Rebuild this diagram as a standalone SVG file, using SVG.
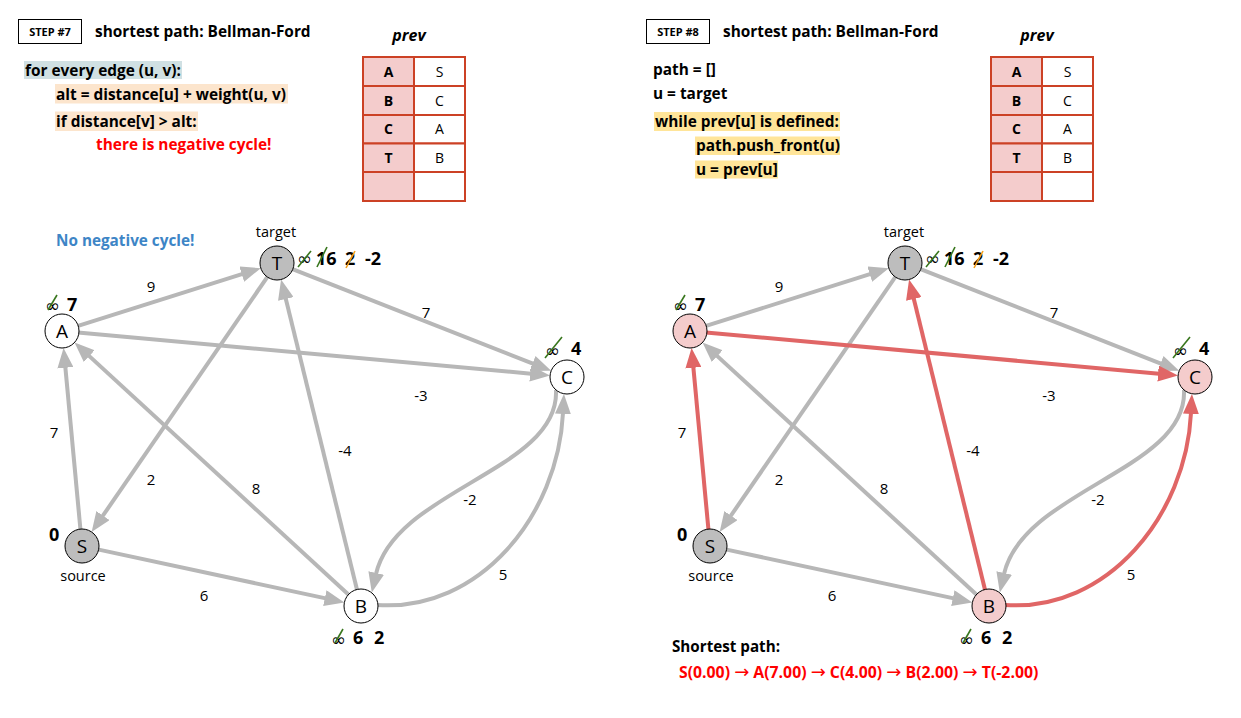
<svg xmlns="http://www.w3.org/2000/svg" width="1241" height="718" viewBox="0 0 1241 718">
<defs>
<style>
text{font-family:"Open Sans","Liberation Sans",sans-serif;fill:#000}
.b{font-weight:bold}
.hd{font-size:15.4px;font-weight:bold}
.code{font-size:15.4px;font-weight:bold}
.step{font-size:11px;font-weight:bold}
.w{font-size:15px;text-anchor:middle}
.nl{font-size:19px;text-anchor:middle}
.cap{font-size:14.5px;text-anchor:middle}
.d{font-size:18px;font-weight:bold}
.inf{font-size:18px;font-family:"DejaVu Sans",sans-serif}
.arr{font-family:"DejaVu Sans",sans-serif;font-size:18px;font-weight:normal}
.tb{font-size:14px;text-anchor:middle}
.e{fill:none;stroke:#b7b7b7;stroke-width:4;marker-end:url(#ag)}
.er{fill:none;stroke:#e06666;stroke-width:4;marker-end:url(#ar)}
.nw{fill:#fff;stroke:#000;stroke-width:1}
.ng{fill:#bdbdbd;stroke:#000;stroke-width:1}
.np{fill:#f4cccc;stroke:#000;stroke-width:1}
.sg{stroke:#38761d;stroke-width:1.6}
.so{stroke:#f6a01a;stroke-width:1.6}
.cell{fill:#fff;stroke:#cc4125;stroke-width:2}
.cellp{fill:#f4cccc;stroke:#cc4125;stroke-width:2}
</style>
<marker id="ag" markerUnits="userSpaceOnUse" markerWidth="20" markerHeight="16" viewBox="0 0 20 16" refX="1" refY="8" orient="auto"><path d="M0,0 L20,8 L0,16 z" fill="#b7b7b7"/></marker>
<marker id="ar" markerUnits="userSpaceOnUse" markerWidth="20" markerHeight="16" viewBox="0 0 20 16" refX="1" refY="8" orient="auto"><path d="M0,0 L20,8 L0,16 z" fill="#e06666"/></marker>
</defs>
<rect width="1241" height="718" fill="#fff"/>

<!-- LEFT PANEL: STEP 7 -->
<g id="header7">
<rect x="18.5" y="19.5" width="63" height="24" fill="#fff" stroke="#000" stroke-width="1"/>
<text class="step" x="50" y="35.5" text-anchor="middle">STEP #7</text>
<text class="hd" x="95" y="37">shortest path: Bellman-Ford</text>
</g>
<g id="code7">
<rect x="24" y="61" width="158" height="18" fill="#d0e0e3"/>
<rect x="55" y="84" width="233" height="19.5" fill="#fce5cd"/>
<rect x="55" y="111.5" width="143" height="19.5" fill="#fce5cd"/>
<text class="code" x="25" y="75.5">for every edge (u, v):</text>
<text class="code" x="56" y="99.5">alt = distance[u] + weight(u, v)</text>
<text class="code" x="56" y="127">if distance[v] &gt; alt:</text>
<text class="code" x="96" y="150" style="fill:#ff0000">there is negative cycle!</text>
</g>
<g id="prev7">
<text x="409" y="41" class="b" style="font-size:16px;font-style:italic" text-anchor="middle">prev</text>
<rect class="cellp" x="363" y="57" width="51" height="29"/><rect class="cell" x="414" y="57" width="51" height="29"/>
<rect class="cellp" x="363" y="86" width="51" height="29"/><rect class="cell" x="414" y="86" width="51" height="29"/>
<rect class="cellp" x="363" y="115" width="51" height="28.5"/><rect class="cell" x="414" y="115" width="51" height="28.5"/>
<rect class="cellp" x="363" y="143.5" width="51" height="28.5"/><rect class="cell" x="414" y="143.5" width="51" height="28.5"/>
<rect class="cellp" x="363" y="172" width="51" height="29"/><rect class="cell" x="414" y="172" width="51" height="29"/>
<text class="tb b" x="388.5" y="76.5">A</text><text class="tb" x="439.5" y="76.5">S</text>
<text class="tb b" x="388.5" y="105.5">B</text><text class="tb" x="439.5" y="105.5">C</text>
<text class="tb b" x="388.5" y="134">C</text><text class="tb" x="439.5" y="134">A</text>
<text class="tb b" x="388.5" y="162.5">T</text><text class="tb" x="439.5" y="162.5">B</text>
</g>
<text x="56" y="246" class="b" style="font-size:15.3px;fill:#3d85c6">No negative cycle!</text>

<g id="edges7">
<line class="e" x1="77.3" y1="326.2" x2="242.7" y2="273.9"/>
<line class="e" x1="291.9" y1="268.9" x2="533.5" y2="363.8"/>
<line class="e" x1="77.9" y1="332.5" x2="531.1" y2="373.7"/>
<line class="e" x1="80.5" y1="530.1" x2="65.3" y2="366.8"/>
<line class="e" x1="267.9" y1="276.2" x2="102.4" y2="516.4"/>
<line class="e" x1="349.2" y1="595.2" x2="88.5" y2="355.4"/>
<line class="e" x1="357.2" y1="590.5" x2="285.6" y2="298"/>
<line class="e" x1="97.6" y1="549.4" x2="325.8" y2="598.4"/>
<path class="e" d="M556,390 C560,470 395,490 376,574"/>
<path class="e" d="M377,605 C480,612 558,515 563,413"/>
<text class="w" x="151" y="292">9</text>
<text class="w" x="426" y="318">7</text>
<text class="w" x="421" y="401">-3</text>
<text class="w" x="54" y="438">7</text>
<text class="w" x="151" y="485">2</text>
<text class="w" x="256" y="494">8</text>
<text class="w" x="345" y="456">-4</text>
<text class="w" x="470" y="505">-2</text>
<text class="w" x="503" y="580">5</text>
<text class="w" x="204" y="601">6</text>
</g>

<g id="nodeT7">
<circle class="ng" cx="277" cy="263" r="17"/>
<text class="nl" x="277" y="270">T</text>
<text class="cap" x="276" y="237">target</text>
<text class="inf" x="297" y="265">∞</text>
<line class="sg" x1="298" y1="267" x2="311" y2="251"/>
<text class="d" x="316" y="265">16</text>
<line class="sg" x1="317" y1="267" x2="327" y2="247"/>
<text class="d" x="345" y="265">2</text>
<line class="so" x1="346" y1="268" x2="355" y2="251"/>
<text class="d" x="365" y="265">-2</text>
</g>
<g id="nodeA7">
<circle class="nw" cx="62" cy="331" r="17"/>
<text class="nl" x="62" y="338">A</text>
<text class="inf" x="45" y="312">∞</text>
<line class="sg" x1="48" y1="310" x2="57" y2="295"/>
<text class="d" x="67" y="311">7</text>
</g>
<g id="nodeC7">
<circle class="nw" cx="567" cy="377" r="17"/>
<text class="nl" x="567" y="384">C</text>
<text class="inf" x="545" y="357">∞</text>
<line class="sg" x1="545" y1="358" x2="562" y2="337"/>
<text class="d" x="571" y="355">4</text>
</g>
<g id="nodeS7">
<circle class="ng" cx="82" cy="546" r="17"/>
<text class="nl" x="82" y="553">S</text>
<text class="d" x="49" y="541">0</text>
<text class="cap" x="83" y="581">source</text>
</g>
<g id="nodeB7">
<circle class="nw" cx="361" cy="606" r="17"/>
<text class="nl" x="361" y="613">B</text>
<text class="inf" x="331" y="646">∞</text>
<line class="sg" x1="335" y1="643" x2="343" y2="629"/>
<text class="d" x="353" y="644">6</text>
<text class="d" x="374" y="644">2</text>
</g>

<!-- RIGHT PANEL: STEP 8 -->
<g id="header8">
<rect x="646.5" y="19.5" width="63" height="24" fill="#fff" stroke="#000" stroke-width="1"/>
<text class="step" x="678" y="35.5" text-anchor="middle">STEP #8</text>
<text class="hd" x="723" y="37">shortest path: Bellman-Ford</text>
</g>
<g id="code8">
<rect x="654" y="112" width="186" height="19" fill="#ffe599"/>
<rect x="695" y="136.5" width="145" height="18.5" fill="#ffe599"/>
<rect x="695" y="160.5" width="83" height="18" fill="#ffe599"/>
<text class="code" x="653" y="75">path = []</text>
<text class="code" x="653" y="98.5">u = target</text>
<text class="code" x="655" y="126.5">while prev[u] is defined:</text>
<text class="code" x="696" y="151">path.push_front(u)</text>
<text class="code" x="696" y="174.5">u = prev[u]</text>
</g>
<g id="prev8">
<text x="1037" y="41" class="b" style="font-size:16px;font-style:italic" text-anchor="middle">prev</text>
<rect class="cellp" x="991" y="57" width="51" height="29"/><rect class="cell" x="1042" y="57" width="51" height="29"/>
<rect class="cellp" x="991" y="86" width="51" height="29"/><rect class="cell" x="1042" y="86" width="51" height="29"/>
<rect class="cellp" x="991" y="115" width="51" height="28.5"/><rect class="cell" x="1042" y="115" width="51" height="28.5"/>
<rect class="cellp" x="991" y="143.5" width="51" height="28.5"/><rect class="cell" x="1042" y="143.5" width="51" height="28.5"/>
<rect class="cellp" x="991" y="172" width="51" height="29"/><rect class="cell" x="1042" y="172" width="51" height="29"/>
<text class="tb b" x="1016.5" y="76.5">A</text><text class="tb" x="1067.5" y="76.5">S</text>
<text class="tb b" x="1016.5" y="105.5">B</text><text class="tb" x="1067.5" y="105.5">C</text>
<text class="tb b" x="1016.5" y="134">C</text><text class="tb" x="1067.5" y="134">A</text>
<text class="tb b" x="1016.5" y="162.5">T</text><text class="tb" x="1067.5" y="162.5">B</text>
</g>

<g id="edges8" transform="translate(628,0)">
<line class="e" x1="77.3" y1="326.2" x2="242.7" y2="273.9"/>
<line class="e" x1="291.9" y1="268.9" x2="533.5" y2="363.8"/>
<line class="e" x1="267.9" y1="276.2" x2="102.4" y2="516.4"/>
<line class="e" x1="349.2" y1="595.2" x2="88.5" y2="355.4"/>
<line class="e" x1="97.6" y1="549.4" x2="325.8" y2="598.4"/>
<path class="e" d="M556,390 C560,470 395,490 376,574"/>
<line class="er" x1="80.5" y1="530.1" x2="65.3" y2="366.8"/>
<line class="er" x1="77.9" y1="332.5" x2="531.1" y2="373.7"/>
<line class="er" x1="357.2" y1="590.5" x2="285.6" y2="298"/>
<path class="er" d="M377,605 C480,612 558,515 563,413"/>
<text class="w" x="151" y="292">9</text>
<text class="w" x="426" y="318">7</text>
<text class="w" x="421" y="401">-3</text>
<text class="w" x="54" y="438">7</text>
<text class="w" x="151" y="485">2</text>
<text class="w" x="256" y="494">8</text>
<text class="w" x="345" y="456">-4</text>
<text class="w" x="470" y="505">-2</text>
<text class="w" x="503" y="580">5</text>
<text class="w" x="204" y="601">6</text>
</g>

<g id="nodeT8" transform="translate(628,0)">
<circle class="ng" cx="277" cy="263" r="17"/>
<text class="nl" x="277" y="270">T</text>
<text class="cap" x="276" y="237">target</text>
<text class="inf" x="297" y="265">∞</text>
<line class="sg" x1="298" y1="267" x2="311" y2="251"/>
<text class="d" x="316" y="265">16</text>
<line class="sg" x1="317" y1="267" x2="327" y2="247"/>
<text class="d" x="345" y="265">2</text>
<line class="so" x1="346" y1="268" x2="355" y2="251"/>
<text class="d" x="365" y="265">-2</text>
</g>
<g id="nodeA8" transform="translate(628,0)">
<circle class="np" cx="62" cy="331" r="17"/>
<text class="nl" x="62" y="338">A</text>
<text class="inf" x="45" y="312">∞</text>
<line class="sg" x1="48" y1="310" x2="57" y2="295"/>
<text class="d" x="67" y="311">7</text>
</g>
<g id="nodeC8" transform="translate(628,0)">
<circle class="np" cx="567" cy="377" r="17"/>
<text class="nl" x="567" y="384">C</text>
<text class="inf" x="545" y="357">∞</text>
<line class="sg" x1="545" y1="358" x2="562" y2="337"/>
<text class="d" x="571" y="355">4</text>
</g>
<g id="nodeS8" transform="translate(628,0)">
<circle class="ng" cx="82" cy="546" r="17"/>
<text class="nl" x="82" y="553">S</text>
<text class="d" x="49" y="541">0</text>
<text class="cap" x="83" y="581">source</text>
</g>
<g id="nodeB8" transform="translate(628,0)">
<circle class="np" cx="361" cy="606" r="17"/>
<text class="nl" x="361" y="613">B</text>
<text class="inf" x="331" y="646">∞</text>
<line class="sg" x1="335" y1="643" x2="343" y2="629"/>
<text class="d" x="353" y="644">6</text>
<text class="d" x="374" y="644">2</text>
</g>

<g id="result8">
<text x="672" y="652" class="b" style="font-size:15.2px">Shortest path:</text>
<text x="679" y="678" class="b" style="font-size:15.8px;fill:#ff0000">S(0.00) <tspan class="arr" style="fill:#ff0000">→</tspan> A(7.00) <tspan class="arr" style="fill:#ff0000">→</tspan> C(4.00) <tspan class="arr" style="fill:#ff0000">→</tspan> B(2.00) <tspan class="arr" style="fill:#ff0000">→</tspan> T(-2.00)</text>
</g>
</svg>
